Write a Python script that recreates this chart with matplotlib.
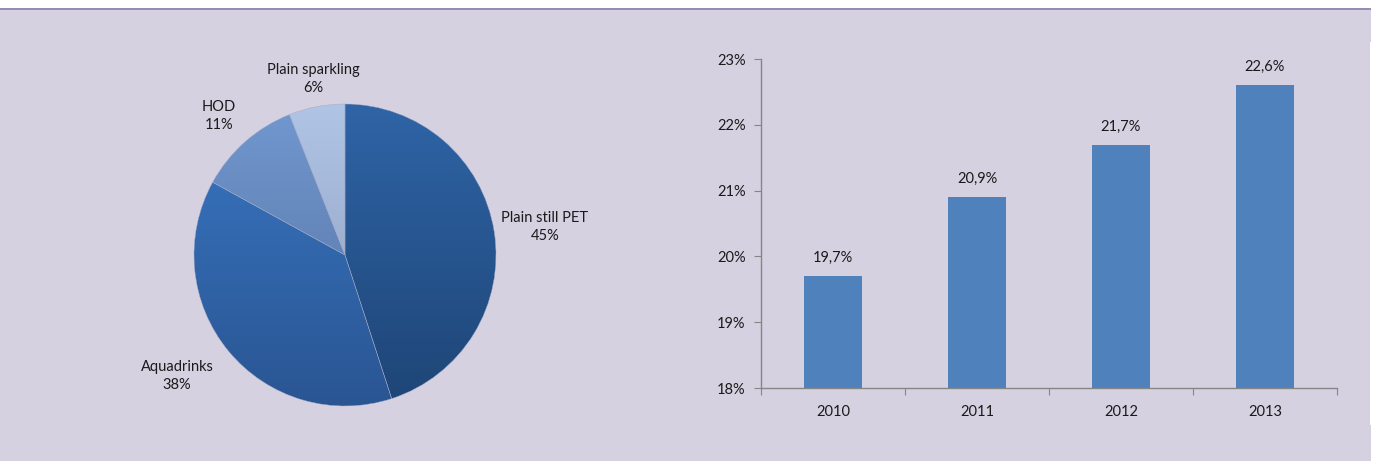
import numpy as np
import matplotlib
matplotlib.use("Agg")
import matplotlib.pyplot as plt
from matplotlib.patches import Rectangle
from matplotlib.ticker import FixedLocator, FuncFormatter

plt.rcParams['font.family'] = ['Lato', 'DejaVu Sans']

# market split by segment
segments = ['Plain still PET', 'Aquadrinks', 'HOD', 'Plain sparkling']
seg_share = [45, 38, 11, 6]
# (top colour, bottom colour) for each slice
seg_colors = [('#2f64a6', '#1e4576'),
              ('#3977c3', '#2a5593'),
              ('#7198d0', '#55709f'),
              ('#b0c4e6', '#8b9cbd')]

# yearly share
years = ['2010', '2011', '2012', '2013']
share = [19.7, 20.9, 21.7, 22.6]

W, H = 1376, 461
BG = '#d5d1e1'
TXT = '#1a1a1a'
FS = 10.5

fig = plt.figure(figsize=(W / 100, H / 100), dpi=100, facecolor='white')

# panel background + top rule
fig.patches.append(Rectangle((0, 0), 1371 / W, (H - 9) / H, transform=fig.transFigure,
                             facecolor=BG, edgecolor='none', zorder=-10))
fig.patches.append(Rectangle((0, (H - 10) / H), 1371 / W, 2 / H, transform=fig.transFigure,
                             facecolor='#978cb3', edgecolor='none', zorder=-9))
fig.patches.append(Rectangle((1370 / W, 36 / H), 6 / W, 383 / H, transform=fig.transFigure,
                             facecolor='white', edgecolor='none', zorder=-8))


def px_axes(x0, y0, x1, y1):
    # axes from pixel box (top-left origin)
    return fig.add_axes([x0 / W, (H - y1) / H, (x1 - x0) / W, (y1 - y0) / H])


# ---- pie ----
cx, cy, r = 345, 255, 151
ax1 = px_axes(cx - r, cy - r, cx + r, cy + r)
ax1.set_facecolor('none')
wedges, _ = ax1.pie(seg_share, startangle=90, counterclock=False, radius=1,
                    wedgeprops=dict(linewidth=0.3, edgecolor='#9fa8c4'))
grad = np.linspace(0, 1, 256).reshape(-1, 1)
for w, (ctop, cbot) in zip(wedges, seg_colors):
    c0 = np.array(matplotlib.colors.to_rgb(ctop))
    c1 = np.array(matplotlib.colors.to_rgb(cbot))
    img = c0[None, None, :] * (1 - grad[:, :, None]) + c1[None, None, :] * grad[:, :, None]
    im = ax1.imshow(img, extent=[-1, 1, -1, 1], origin='upper', aspect='auto', zorder=2)
    im.set_clip_path(w)
    w.set_facecolor('none')
    w.set_zorder(3)
ax1.set_xlim(-1, 1)
ax1.set_ylim(-1, 1)
ax1.set_aspect('equal')
ax1.axis('off')

label_pos = [(545, 227), (177, 376), (219, 116), (313, 79)]
for (lx, ly), name, pct in zip(label_pos, segments, seg_share):
    fig.text(lx / W, 1 - ly / H, f'{name}\n{pct}%', ha='center', va='center',
             fontsize=FS, color=TXT, linespacing=1.35)

# ---- bars ----
ax2 = px_axes(761, 59, 1337, 388)
ax2.set_facecolor('none')
x = np.arange(len(years))
ax2.bar(x, share, width=0.4, color='#4f81bd', zorder=2)
ax2.set_xlim(-0.5, len(years) - 0.5)
ax2.set_ylim(18, 23)
ax2.yaxis.set_major_locator(FixedLocator(np.arange(18, 24, 1)))
ax2.yaxis.set_major_formatter(FuncFormatter(lambda v, p: f'{v:.0f}%'))
ax2.xaxis.set_major_locator(FixedLocator(np.arange(-0.5, len(years), 1)))
ax2.xaxis.set_major_formatter(FuncFormatter(lambda v, p: ''))
ax2.xaxis.set_minor_locator(FixedLocator(x))
ax2.set_xticklabels(years, minor=True)
ax2.tick_params(axis='x', which='minor', length=0, pad=12, labelsize=FS, labelcolor=TXT)
ax2.tick_params(axis='x', which='major', length=5, color='#868686', direction='out')
ax2.tick_params(axis='y', length=5, color='#868686', direction='out', pad=6,
                labelsize=FS, labelcolor=TXT)
for s in ['top', 'right']:
    ax2.spines[s].set_visible(False)
for s in ['left', 'bottom']:
    ax2.spines[s].set_color('#868686')
    ax2.spines[s].set_linewidth(1)

for xi, v in zip(x, share):
    ax2.annotate(f'{v:.1f}%'.replace('.', ','), (xi, v), xytext=(0, 8),
                 textcoords='offset points', ha='center', va='bottom',
                 fontsize=FS, color=TXT)

fig.savefig('out.png', dpi=100, facecolor=fig.get_facecolor())
